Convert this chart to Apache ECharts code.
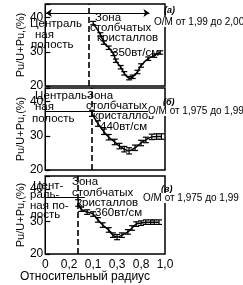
<!DOCTYPE html>
<html><head><meta charset="utf-8">
<script src="https://cdn.jsdelivr.net/npm/echarts@6/dist/echarts.min.js"></script>
<style>html,body{margin:0;padding:0;background:#fff}#c{width:243px;height:285px}</style>
</head><body><div id="c"></div>
<script>
// Panel (а): 350 вт/см, O/M 1,99–2,00
const radius1 = [0.40,0.46,0.49,0.53,0.57,0.59,0.63,0.66,0.70,0.73,0.77,0.80,0.86,0.91,0.96];
const pu1     = [38.4,35.1,32.7,31.2,29.4,27.4,25.5,23.7,22.3,22.7,24.1,26.0,28.0,28.9,29.8];
const err1    = [0.5,0.5,0.5,0.5,0.5,0.5,0.5,0.5,0.5,0.5,0.5,0.5,0.5,0.5,0.5];
// Panel (б): 440 вт/см, O/M 1,975–1,99
const radius2 = [0.39,0.44,0.49,0.53,0.58,0.62,0.66,0.70,0.75,0.80,0.84,0.89,0.93,0.97];
const pu2     = [36.6,33.6,31.2,29.6,28.2,27.0,26.1,25.6,26.5,27.9,28.8,29.7,29.8,29.8];
const err2    = [0.9,0.8,0.8,0.8,0.8,0.8,0.8,0.9,0.8,0.8,0.8,0.8,0.8,0.8];
// Panel (в): 360 вт/см, O/M 1,975–1,99
const radius3 = [0.275,0.30,0.35,0.40,0.44,0.48,0.53,0.565,0.60,0.64,0.69,0.725,0.76,0.80,0.84,0.88,0.91,0.95];
const pu3     = [35.7,33.8,32.9,32.3,30.5,28.9,27.4,25.8,25.2,25.8,26.8,28.0,29.2,29.5,29.8,29.8,29.8,29.8];
const err3    = [1.0,0.7,0.7,0.7,0.7,0.7,0.7,0.7,0.8,0.7,0.7,0.7,0.7,0.7,0.7,0.7,0.7,0.7];

const zoneBoundary = [0.365, 0.386, 0.27];
const arrowLevel   = [41.4, 37.3, 37.5];
const arrowEnd     = [0.87, 0.88, 0.33];
const tickLabels   = ['0','0,2','0,1','0,3','0,8','1,0'];
const yMin = 20, yMax = 44;

const radii = [radius1, radius2, radius3];
const pus = [pu1, pu2, pu3];
const errs = [err1, err2, err3];

const FONT = 'Liberation Sans, Arial, sans-serif';
const grids = [
  {left:27, right:78, top:4, height:82},
  {left:27, right:78, top:88, height:82},
  {left:27, right:78, top:176, height:78}
].map(g => Object.assign(g, {show:true, borderColor:'#000', borderWidth:1.5, backgroundColor:'transparent'}));

const xAxes = [0,1,2].map(i => ({
  type:'value', gridIndex:i, min:0, max:1, interval:0.2,
  axisLine:{show:false}, axisTick:{show:false}, splitLine:{show:false},
  axisLabel:{show: i===2, color:'#000', fontSize:12, fontFamily:FONT, margin:5,
    formatter: v => tickLabels[Math.round(v/0.2)]}
}));
const yAxes = [0,1,2].map(i => ({
  type:'value', gridIndex:i, min:yMin, max:yMax, interval:10,
  name:'Pu/U+Pu,(%)', nameLocation:'middle', nameGap:17, nameRotate:90,
  nameTextStyle:{color:'#000', fontSize:11, fontFamily:FONT},
  axisLine:{show:false}, splitLine:{show:false},
  axisTick:{show:true, inside:true, length:5, lineStyle:{color:'#000', width:1.2}},
  axisLabel:{color:'#000', fontSize:12, fontFamily:FONT, margin:2,
    formatter: v => (Math.abs(v % 10) < 1e-9 ? String(v) : '')}
}));

const series = [];
[0,1,2].forEach(i => {
  const pts = radii[i].map((r,k) => [r, pus[i][k]]);
  series.push({
    type:'line', xAxisIndex:i, yAxisIndex:i, data:pts, smooth:0.35,
    showSymbol:false, silent:true, lineStyle:{color:'#000', width:1.5},
    markLine:{silent:true, symbol:'none', animation:false, label:{show:false},
      data:[
        [{coord:[zoneBoundary[i], yMin], lineStyle:{type:[6,3], width:1.6, color:'#000'}},
         {coord:[zoneBoundary[i], yMax]}],
        [{coord:[0.005, arrowLevel[i]], symbol: i===0 ? 'arrow' : 'none', symbolSize:6,
          lineStyle:{type:'solid', width:1.2, color:'#000'}},
         {coord:[arrowEnd[i], arrowLevel[i]], symbol: i===0 ? 'arrow' : 'none', symbolSize:6}]
      ]}
  });
  series.push({
    type:'custom', xAxisIndex:i, yAxisIndex:i, silent:true,
    data: radii[i].map((r,k) => [r, pus[i][k], errs[i][k]]),
    renderItem: (params, api) => {
      const x = api.value(0), y = api.value(1), e = api.value(2);
      const lo = api.coord([x, y - e]), hi = api.coord([x, y + e]);
      const w = 3, st = {stroke:'#000', lineWidth:1.2};
      return {type:'group', children:[
        {type:'line', shape:{x1:lo[0], y1:lo[1], x2:hi[0], y2:hi[1]}, style:st},
        {type:'line', shape:{x1:lo[0]-w, y1:lo[1], x2:lo[0]+w, y2:lo[1]}, style:st},
        {type:'line', shape:{x1:hi[0]-w, y1:hi[1], x2:hi[0]+w, y2:hi[1]}, style:st}
      ]};
    }
  });
});

function t(x, y, text, opts) {
  return {type:'text', x:x, y:y, z:100, silent:true,
    style:Object.assign({text:text, fill:'#000', font:'11.5px ' + FONT, verticalAlign:'middle'}, opts||{})};
}
const white = {backgroundColor:'#fff'};
const graphic = [
  // panel а
  t(30,24,'Централь'), t(35,35,'ная'), t(31,45,'полость'),
  t(95,18,'Зона'), t(90,28,'столбчатых'), t(97,38,'кристаллов'), t(112,53,'350вт/см'),
  t(164,11,'(а)', {font:'italic bold 9px ' + FONT}),
  t(154,22,'O/M от 1,99 до 2,00', Object.assign({font:'10px ' + FONT}, white)),
  // panel б
  t(35,96,'Централь-'), t(35,107,'ная'), t(32,119,'полость'),
  t(87,96,'Зона'), t(86,106,'столбчатых'), t(93,116,'кристаллов'), t(100,127,'440вт/см'),
  t(163,103,'(б)', {font:'italic bold 9px ' + FONT}),
  t(148,111,'O/M от 1,975 до 1,99', Object.assign({font:'10px ' + FONT}, white)),
  // panel в
  t(33,186,'Цент-'), t(30,195,'раль-'), t(30,206,'ная по-'), t(30,215,'лость'),
  t(72,182,'Зона'), t(72,193,'столбчатых'), t(77,203,'кристаллов'), t(95,213,'360вт/см'),
  t(161,190,'(в)', {font:'italic bold 9px ' + FONT}),
  t(143,198,'O/M от 1,975 до 1,99', Object.assign({font:'10px ' + FONT}, white)),
  // x axis title
  t(85,277,'Относительный радиус', {align:'center', font:'12px ' + FONT})
];

const chart = echarts.init(document.getElementById('c'), null, {renderer:'canvas'});
chart.setOption({animation:false, backgroundColor:'#fff', grid:grids, xAxis:xAxes, yAxis:yAxes, series:series, graphic:graphic});
</script>
</body></html>
